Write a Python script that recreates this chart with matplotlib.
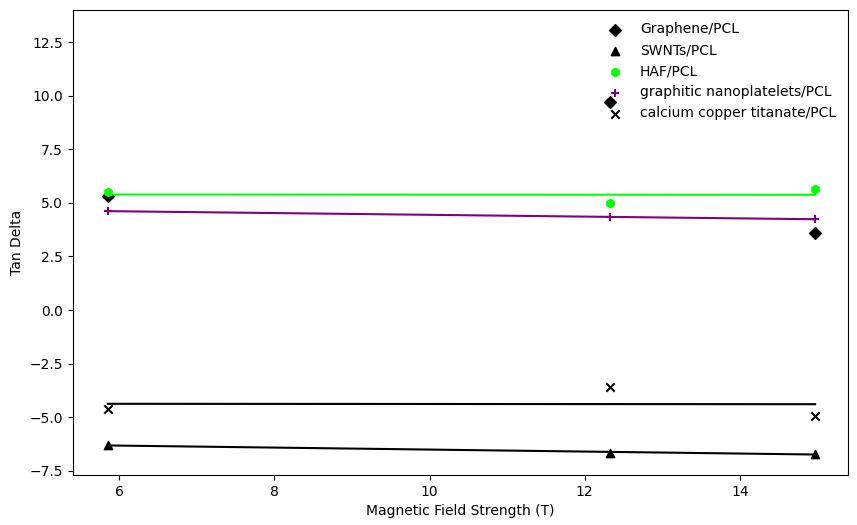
import numpy as np
import matplotlib
matplotlib.use("Agg")
import matplotlib.pyplot as plt

field = [5.85, 12.33, 14.97]
graphene = [5.3, 9.7, 3.6]
swnts = [-6.3, -6.67, -6.7]
haf = [5.5, 5.0, 5.65]
graphitic = [4.62, 4.33, 4.25]
cct = [-4.6, -3.6, -4.95]

fig, ax = plt.subplots(figsize=(8.57, 5.25), dpi=100)
fig.subplots_adjust(left=0.085, right=0.99, top=0.981, bottom=0.095)

x = np.array(field)
ax.scatter(x, graphene, marker="D", color="black", label="Graphene/PCL")
ax.scatter(x, swnts, marker="^", color="black", label="SWNTs/PCL")
ax.scatter(x, haf, marker="h", color="#00ff00", label="HAF/PCL")
ax.scatter(x, graphitic, marker="+", color="purple", label="graphitic nanoplatelets/PCL")
ax.scatter(x, cct, marker="x", color="black", label="calcium copper titanate/PCL")

# trend lines
for ys, c in [(haf, "#00ff00"), (graphitic, "purple"), (swnts, "black"), (cct, "black")]:
    k, b = np.polyfit(x, ys, 1)
    ax.plot(x, k * x + b, color=c)

ax.set_ylim(-7.7, 14)
ax.set_xlim(5.4, 15.4)
ax.set_xlabel("Magnetic Field Strength (T)")
ax.set_ylabel("Tan Delta")
ax.legend(loc="upper right", frameon=False)

fig.savefig("out.png")
